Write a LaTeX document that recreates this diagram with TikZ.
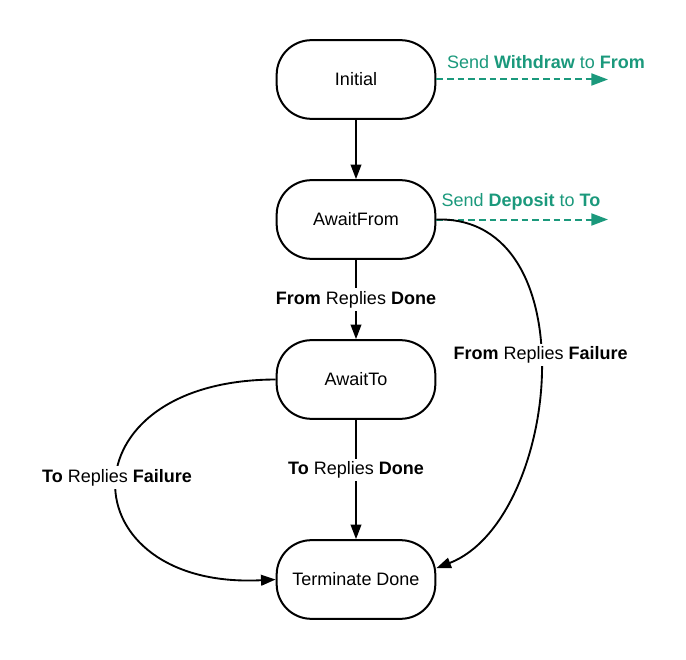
\documentclass[tikz,border=0pt]{standalone}
\usepackage{fontspec}
\setmainfont{Liberation Sans}
\usetikzlibrary{arrows.meta}
\definecolor{sendgreen}{RGB}{27,153,124}

\tikzset{
  state/.style={draw, line width=1.5pt, rounded corners=26pt, minimum width=119pt,
    minimum height=59pt, inner sep=0pt, font=\fontsize{13.5}{16}\selectfont},
  trans/.style={line width=1.4pt, -{Triangle[length=11pt,width=8pt]}},
  send/.style={sendgreen, line width=1.5pt, dash pattern=on 5pt off 3pt,
    -{Triangle[length=12.5pt,width=9pt]}},
  lbl/.style={fill=white, inner sep=2pt, font=\fontsize{13.5}{16}\selectfont},
  sendlbl/.style={text=sendgreen, inner sep=0pt, font=\fontsize{13.5}{16}\selectfont}
}

\begin{document}
\begin{tikzpicture}[x=0.75pt, y=-0.75pt]
            \useasboundingbox (0,0) rectangle (686,660);

            \foreach \name/\txt/\y in {ini/Initial/79.5, afrom/AwaitFrom/219.5,
                                       ato/AwaitTo/379.5, tdone/Terminate Done/579.5} {
                \node[state] (\name) at (356,\y) {\txt};
              }

            % messages sent on entry
            \coordinate (wend) at (608,79.5);
            \coordinate (dend) at (608,219.5);
            \draw[send] (ini.east) -- (wend);
            \draw[send] (afrom.east) -- (dend);
            \node[sendlbl] (wlbl) at (546,62) {Send \textbf{Withdraw} to \textbf{From}};
            \node[sendlbl] (dlbl) at (521,202) {Send \textbf{Deposit} to \textbf{To}};

            % transitions
            \draw[trans] (ini) -- (afrom);
            \draw[trans] (afrom) -- (ato) node[lbl, midway] {\textbf{From} Replies \textbf{Done}};
            \draw[trans] (ato) -- (tdone) node[lbl, pos=0.42] {\textbf{To} Replies \textbf{Done}};
            \draw[trans] (afrom.east) .. controls (590,215) and (560,520) .. (tdone.8)
              node[lbl, pos=0.46] {\textbf{From} Replies \textbf{Failure}};
            \draw[trans] (ato.west) .. controls (60,380) and (68,590) .. (tdone.west)
              node[lbl, pos=0.48] {\textbf{To} Replies \textbf{Failure}};
            \end{tikzpicture}
\end{document}
